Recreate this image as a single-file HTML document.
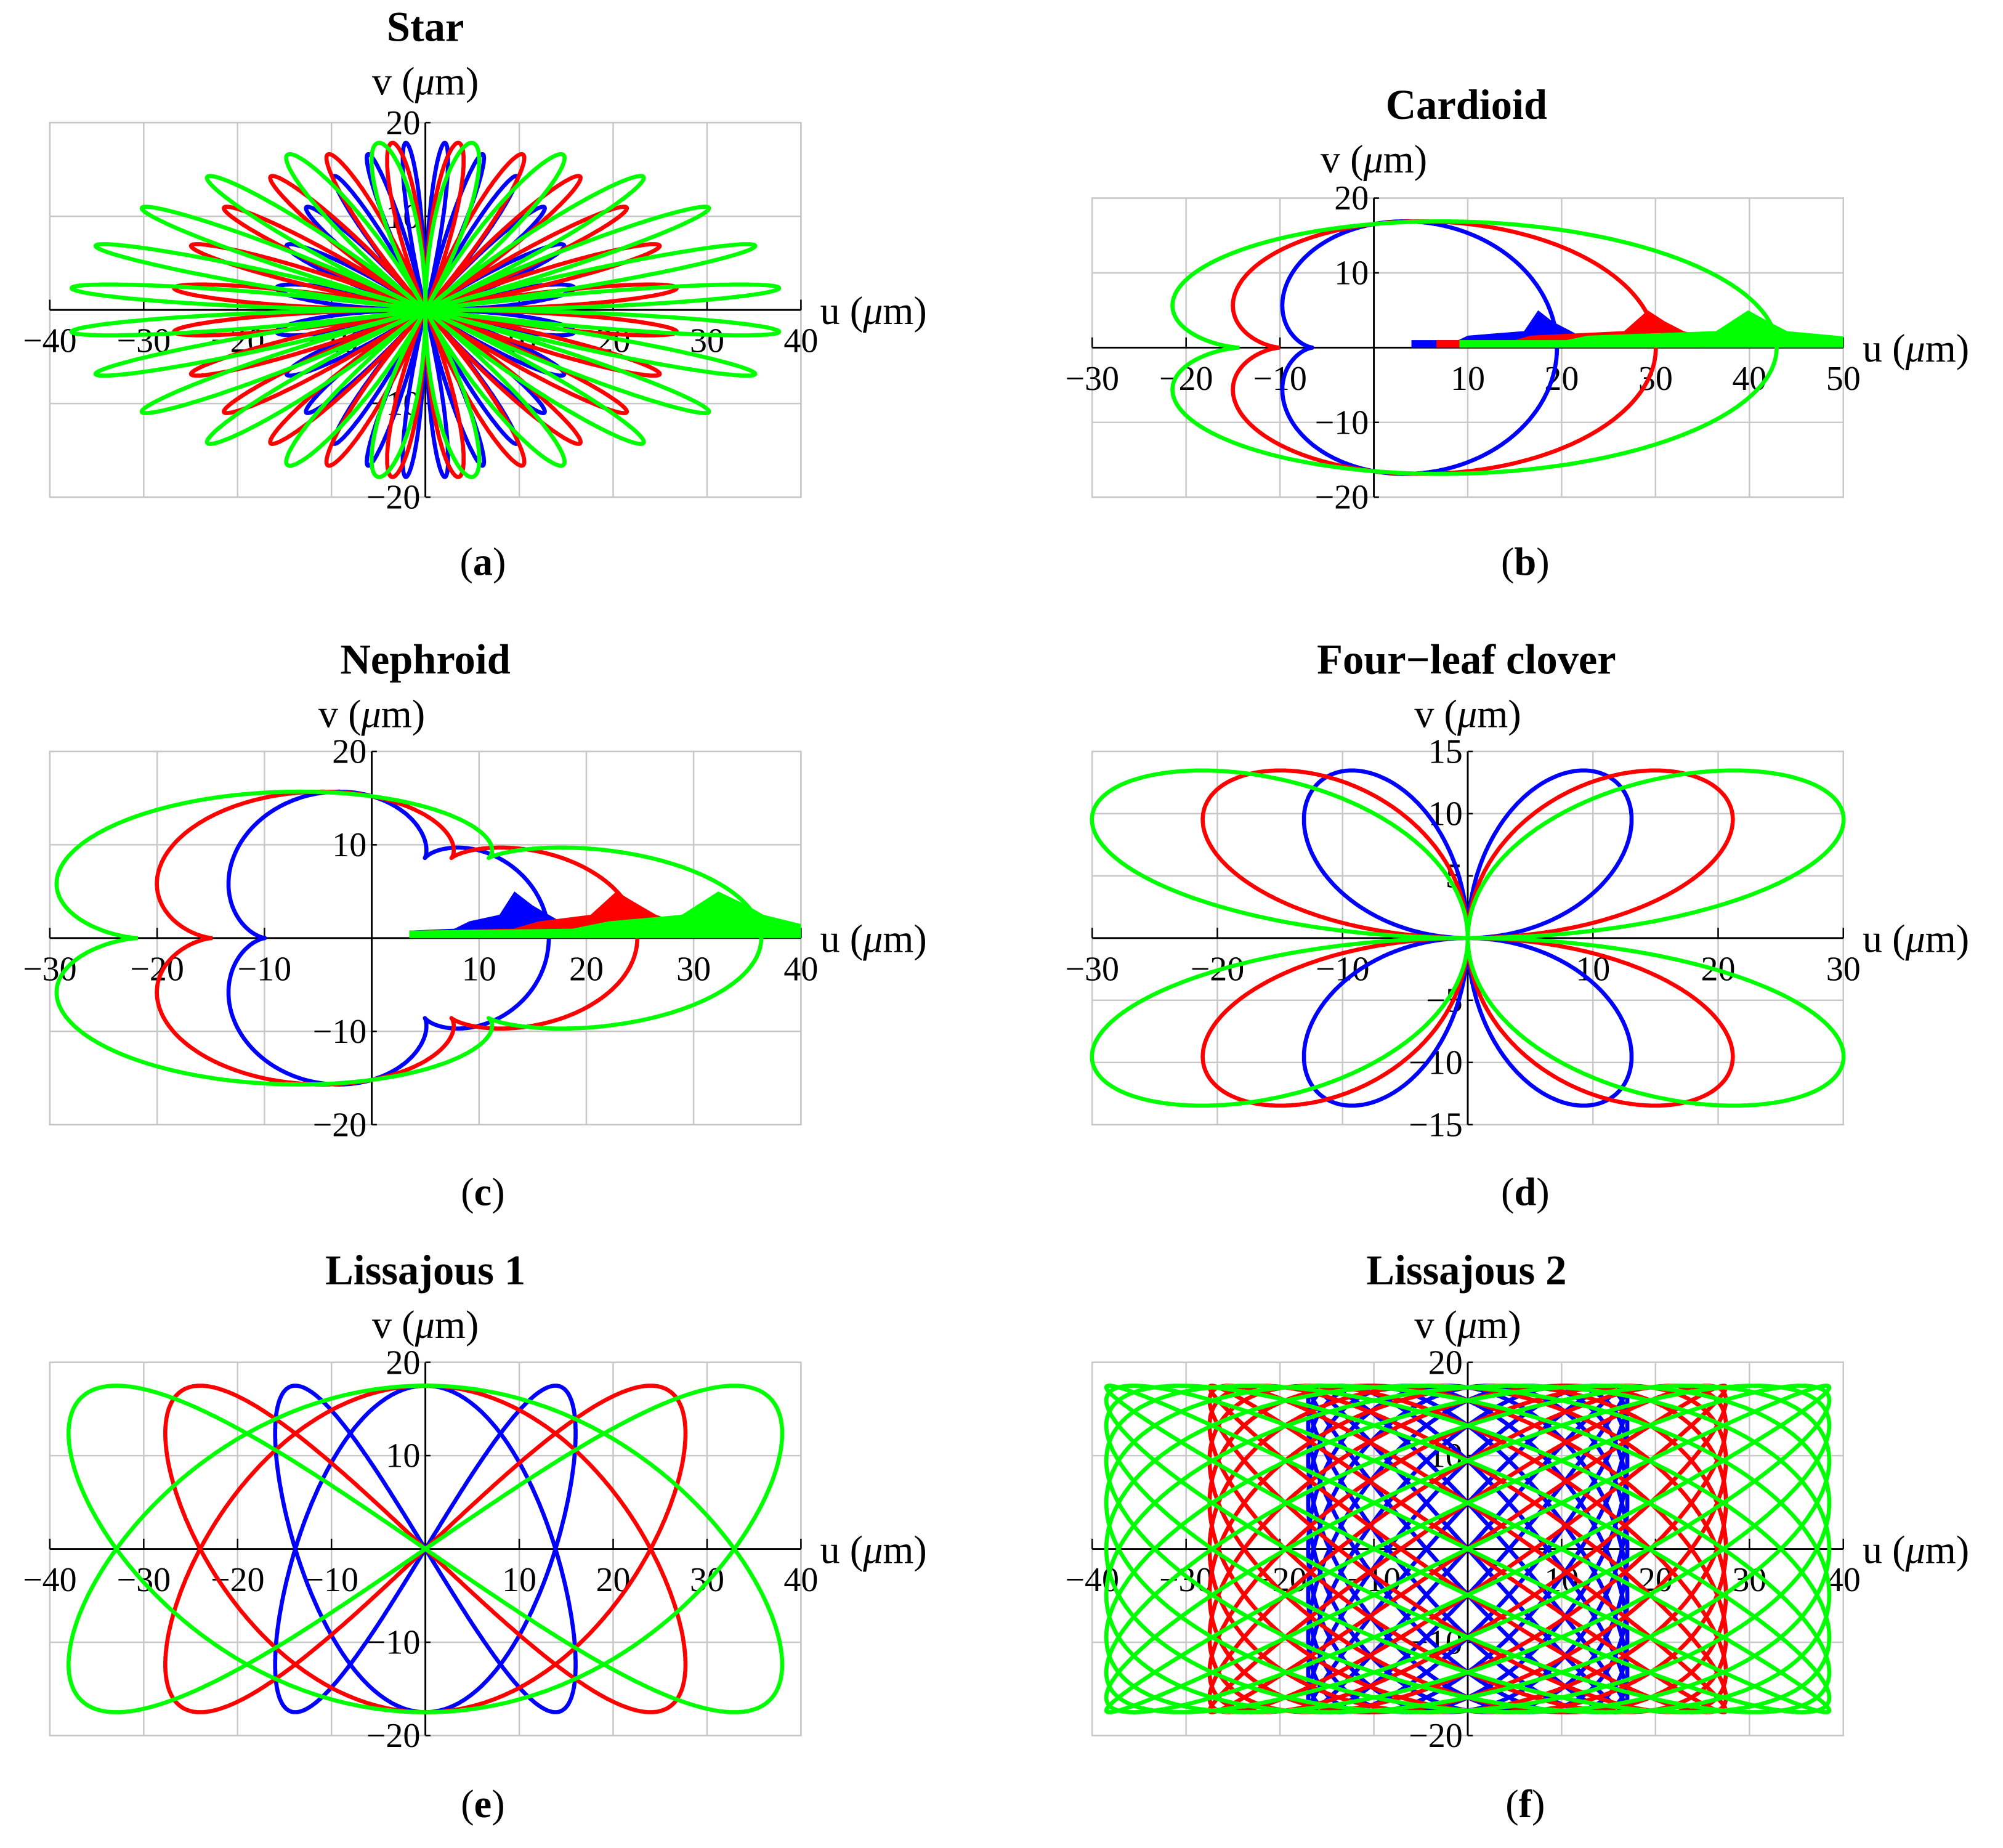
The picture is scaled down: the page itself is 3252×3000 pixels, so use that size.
<!DOCTYPE html>
<html><head><meta charset="utf-8"><style>
html,body{margin:0;padding:0;background:#fff;}
svg{display:block;}
text{font-family:"Liberation Serif",serif;fill:#000;}
</style></head><body>
<svg id="s" xmlns="http://www.w3.org/2000/svg" width="3252" height="3000" viewBox="0 0 1568 1446" preserveAspectRatio="none">
<g id="g"></g>
</svg>
<script>
var g=document.getElementById('g');var out='';
function P(o){
 var x0=o.x0,x1=o.x1,y0=o.y0,y1=o.y1;
 var sx=function(u){return x0+(u-o.umin)/(o.umax-o.umin)*(x1-x0);};
 var sy=function(v){return y1-(v-o.vmin)/(o.vmax-o.vmin)*(y1-y0);};
 var ax=sx(0),ay=sy(0),u,v;
 out+='<rect x="'+x0+'" y="'+y0+'" width="'+(x1-x0)+'" height="'+(y1-y0)+'" fill="none" stroke="#c8c8c8" stroke-width="1.2"/>';
 for(u=o.umin;u<=o.umax+1e-6;u+=o.ust){var X=sx(u);out+='<line x1="'+X+'" y1="'+y0+'" x2="'+X+'" y2="'+y1+'" stroke="#c8c8c8" stroke-width="1.2"/>';}
 for(v=o.vmin;v<=o.vmax+1e-6;v+=o.vst){var Y=sy(v);out+='<line x1="'+x0+'" y1="'+Y+'" x2="'+x1+'" y2="'+Y+'" stroke="#c8c8c8" stroke-width="1.2"/>';}
 out+='<line x1="'+x0+'" y1="'+ay+'" x2="'+x1+'" y2="'+ay+'" stroke="#000" stroke-width="1.4"/>';
 out+='<line x1="'+ax+'" y1="'+y0+'" x2="'+ax+'" y2="'+y1+'" stroke="#000" stroke-width="1.4"/>';
 for(u=o.umin;u<=o.umax+1e-6;u+=o.ust){if(Math.abs(u)<1e-6)continue;var X=sx(u);
  out+='<line x1="'+X+'" y1="'+(ay-8)+'" x2="'+X+'" y2="'+ay+'" stroke="#000" stroke-width="1.2"/>';
  out+='<text x="'+X+'" y="'+(ay+33)+'" font-size="27" text-anchor="middle">'+(u<0?'\u2212'+(-u):u)+'</text>';}
 for(v=o.vmin;v<=o.vmax+1e-6;v+=o.vst){if(Math.abs(v)<1e-6)continue;var Y=sy(v);
  out+='<line x1="'+ax+'" y1="'+Y+'" x2="'+(ax+4)+'" y2="'+Y+'" stroke="#000" stroke-width="1.2"/>';
  out+='<text x="'+(ax-4)+'" y="'+(Y+9)+'" font-size="27" text-anchor="end">'+(v<0?'\u2212'+(-v):v)+'</text>';}
 var cols=['#0000ff','#ff0000','#00ff00'];
 for(var c=0;c<3;c++){
  if(o.blob){var b=o.blob(c),d='M';for(var i=0;i<b.length;i++)d+=sx(b[i][0]).toFixed(1)+','+sy(b[i][1]).toFixed(1)+' ';out+='<path d="'+d+'Z" fill="'+cols[c]+'"/>';}
  var d='M',N=o.N||2000;
  for(var i=0;i<=N;i++){var t=o.t0+(o.t1-o.t0)*i/N;var p=o.f(t,c);d+=(i?'L':'')+sx(p[0]).toFixed(1)+','+sy(p[1]).toFixed(1);}
  out+='<path d="'+d+'" fill="none" stroke="'+cols[c]+'" stroke-width="3.2" stroke-linejoin="round"/>';
 }
 out+='<text x="'+o.tx+'" y="'+o.ty+'" font-size="33" font-weight="bold" text-anchor="middle">'+o.title+'</text>';
 out+='<text x="'+ax+'" y="'+(o.ty+42)+'" font-size="31" text-anchor="middle">v (<tspan font-style="italic">\u03bc</tspan>m)</text>';
 out+='<text x="'+(x1+15)+'" y="'+(ay+11)+'" font-size="31">u (<tspan font-style="italic">\u03bc</tspan>m)</text>';
 out+='<text x="'+o.lx+'" y="'+o.ly+'" font-size="31" text-anchor="middle">(<tspan font-weight="bold">'+o.lab+'</tspan>)</text>';
}
var PI=Math.PI;
P({x0:39,x1:627,y0:96,y1:389,umin:-40,umax:40,vmin:-20,vmax:20,ust:10,vst:10,title:'Star',tx:333,ty:32,lab:'a',lx:378,ly:450,
 t0:0,t1:2*PI,N:4000,f:function(t,c){var s=[16,27,38][c];var r=Math.sin(12*t);return [s*r*Math.cos(t),18*r*Math.sin(t)];}});
P({x0:855,x1:1443,y0:155,y1:389,umin:-30,umax:50,vmin:-20,vmax:20,ust:10,vst:10,title:'Cardioid',tx:1148,ty:93,lab:'b',lx:1194,ly:450,
 t0:0,t1:2*PI,f:function(t,c){var k=[1,1.54,2.2][c],a=6.5;return [-k*a*(2*Math.cos(t)-Math.cos(2*t)),a*(2*Math.sin(t)-Math.sin(2*t))];},
 blob:function(c){var pk=[18,30,41][c],r=[22,35,50][c];return [[4,0],[4,1],[9,1],[10,1.6],[16,2.2],[17.5,5]].map(function(p,i){return [p[0]*pk/18,p[1]];}).concat([[pk+1,3.5],[pk+3,2.2],[r,1.5],[r,0]]);}});
P({x0:39,x1:627,y0:588,y1:880,umin:-30,umax:40,vmin:-20,vmax:20,ust:10,vst:10,title:'Nephroid',tx:333,ty:527,lab:'c',lx:378,ly:943,
 t0:0,t1:2*PI,f:function(t,c){var k=[1,1.5,2.2][c],a=3.3;return [-k*a*(4*Math.cos(t)-Math.cos(4*t)),a*(4*Math.sin(t)-Math.sin(4*t))];},
 blob:function(c){var pk=[14,24,34][c],r=[18,29,40][c];return [[3.5,0],[3.5,0.8],[pk*0.55,1],[pk*0.65,1.8],[pk*0.85,2.5],[pk*0.95,5],[pk+1,3.5],[pk+2.5,2.5],[r,1.5],[r,0]];}});
P({x0:855,x1:1443,y0:588,y1:880,umin:-30,umax:30,vmin:-15,vmax:15,ust:10,vst:5,title:'Four\u2212leaf clover',tx:1148,ty:527,lab:'d',lx:1194,ly:943,
 t0:0,t1:2*PI,f:function(t,c){var s=[17,27.5,39][c];var r=Math.sin(2*t);return [s*r*Math.cos(t),17.5*r*Math.sin(t)];}});
P({x0:39,x1:627,y0:1066,y1:1358,umin:-40,umax:40,vmin:-20,vmax:20,ust:10,vst:10,title:'Lissajous 1',tx:333,ty:1005,lab:'e',lx:378,ly:1422,
 t0:0,t1:2*PI,f:function(t,c){var s=[16,27.7,38][c];return [s*Math.sin(2*t),17.5*Math.cos(3*t)];}});
P({x0:855,x1:1443,y0:1066,y1:1358,umin:-40,umax:40,vmin:-20,vmax:20,ust:10,vst:10,title:'Lissajous 2',tx:1148,ty:1005,lab:'f',lx:1194,ly:1422,
 t0:0,t1:2*PI,N:8000,f:function(t,c){var s=[17,27.5,38.5][c];return [s*Math.sin(11*t),17.5*Math.sin(12*t)];}});
g.innerHTML=out;
</script>
</body></html>
